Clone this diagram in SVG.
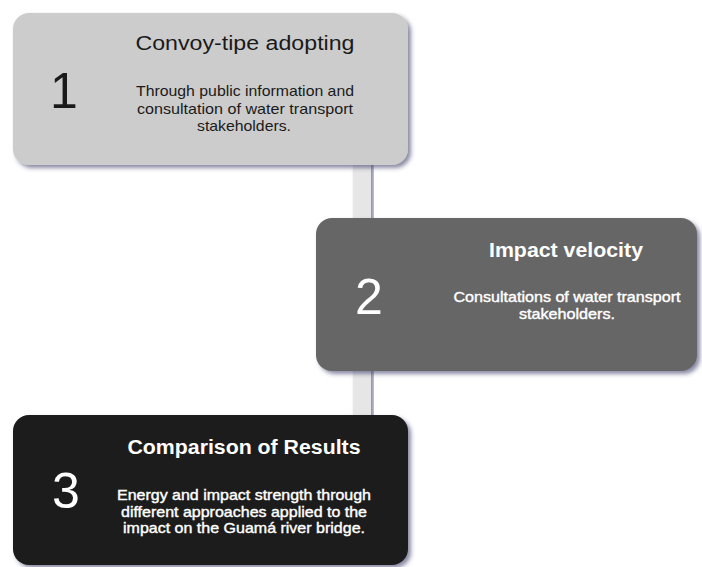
<svg xmlns="http://www.w3.org/2000/svg" width="702" height="567" viewBox="0 0 702 567">
  <defs>
    <filter id="sh" x="-10%" y="-10%" width="125%" height="130%">
      <feDropShadow dx="3" dy="3" stdDeviation="2" flood-color="#3a3a6a" flood-opacity="0.6"/>
    </filter>
  </defs>
  <style>
    text { font-family: "Liberation Sans", Arial, sans-serif; text-anchor: middle; }
    .num { font-size: 50px; }
    .title { font-size: 20px; }
    .desc { font-size: 15px; }
    .b { font-weight: bold; }
    .dark { fill: #1a1a1a; }
    .light { fill: #ffffff; }
    .heavy { stroke: #ffffff; stroke-width: 0.4px; }
  </style>
  <rect width="702" height="567" fill="#ffffff"/>
  <g id="connectors">
    <rect x="353" y="160" width="18" height="260" fill="#e6e6e6" filter="url(#sh)"/>
  </g>
  <g id="node1">
    <rect x="13" y="13" width="395" height="152" rx="16" fill="#cccccc" filter="url(#sh)"/>
    <text class="num dark" x="64" y="108">1</text>
    <text class="title dark" x="245" y="50" textLength="219" lengthAdjust="spacingAndGlyphs">Convoy-tipe adopting</text>
    <text class="desc dark" x="245" y="96" textLength="218" lengthAdjust="spacingAndGlyphs">Through public information and</text>
    <text class="desc dark" x="245" y="114" textLength="216" lengthAdjust="spacingAndGlyphs">consultation of water transport</text>
    <text class="desc dark" x="244" y="131" textLength="94" lengthAdjust="spacingAndGlyphs">stakeholders.</text>
  </g>
  <g id="node2">
    <rect x="316" y="218" width="381" height="153" rx="16" fill="#666666" filter="url(#sh)"/>
    <text class="num light" x="369" y="314">2</text>
    <text class="title light b" x="566" y="257" textLength="154" lengthAdjust="spacingAndGlyphs">Impact velocity</text>
    <text class="desc light heavy" x="567" y="302" textLength="227" lengthAdjust="spacingAndGlyphs">Consultations of water transport</text>
    <text class="desc light heavy" x="567" y="319" textLength="96" lengthAdjust="spacingAndGlyphs">stakeholders.</text>
  </g>
  <g id="node3">
    <rect x="13" y="415" width="395" height="150" rx="16" fill="#1a1a1a" filter="url(#sh)"/>
    <text class="num light" x="66" y="508">3</text>
    <text class="title light b" x="244" y="454" textLength="233" lengthAdjust="spacingAndGlyphs">Comparison of Results</text>
    <text class="desc light heavy" x="244" y="500" textLength="254" lengthAdjust="spacingAndGlyphs">Energy and impact strength through</text>
    <text class="desc light heavy" x="244" y="516.5" textLength="246" lengthAdjust="spacingAndGlyphs">different approaches applied to the</text>
    <text class="desc light heavy" x="244" y="533" textLength="242" lengthAdjust="spacingAndGlyphs">impact on the Guamá river bridge.</text>
  </g>
</svg>
